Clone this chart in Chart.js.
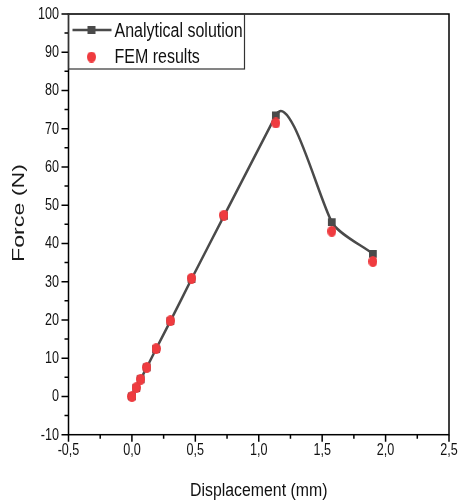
<!DOCTYPE html>
<html>
<head>
<meta charset="utf-8">
<script src="https://cdn.jsdelivr.net/npm/chart.js@4.4.1/dist/chart.umd.min.js"></script>
<style>
    html, body { margin: 0; padding: 0; background: #fff; }
    #wrap { width: 460px; height: 503px; }
</style>
</head>
<body>
<div id="wrap"><canvas id="forceChart"></canvas></div>

<script>
// displacement (mm) shared by both series
const displacement = [0, 0.034, 0.069, 0.117, 0.19, 0.303, 0.47, 0.726, 1.135, 1.576, 1.9];
const analyticalForce = [0, 2.2, 4.5, 7.6, 12.4, 19.7, 30.7, 47.2, 73.5, 45.6, 37.3];
const femForce = [0, 2.3, 4.5, 7.6, 12.5, 19.8, 30.9, 47.4, 71.5, 43.2, 35.3];

const xTickLabels = ['-0,5', '0,0', '0,5', '1,0', '1,5', '2,0', '2,5'];
const yTickLabels = ['-10', '0', '10', '20', '30', '40', '50', '60', '70', '80', '90', '100'];

const SANS = "'Liberation Sans', Arial, sans-serif";
const LINE_GREY = '#4a4a4a';
const FEM_RED = '#ef3b3f';
const TEXT = '#111';

// red FEM marker is a slightly tall ellipse
function ellipseMarker(w, h, color) {
    const c = document.createElement('canvas');
    c.width = w;
    c.height = h;
    const g = c.getContext('2d');
    g.fillStyle = color;
    g.beginPath();
    g.ellipse(w / 2, h / 2, w / 2, h / 2, 0, 0, Math.PI * 2);
    g.fill();
    return c;
}
const femMarker = ellipseMarker(9, 11, FEM_RED);

// condensed-looking text: regular sans squeezed horizontally
function squeezedText(ctx, text, x, y, size, sx, align) {
    ctx.save();
    ctx.translate(x, y);
    ctx.scale(sx, 1);
    ctx.font = size + 'px ' + SANS;
    ctx.textAlign = align;
    ctx.textBaseline = 'alphabetic';
    ctx.fillText(text, 0, 0);
    ctx.restore();
}

// smooth analytical curve: each point's tangent follows its incoming segment
const splinePlugin = {
    id: 'analyticalSpline',
    beforeDatasetsDraw(chart) {
        const { ctx, chartArea, scales: { x, y } } = chart;
        const pts = displacement.map((d, i) => [x.getPixelForValue(d), y.getPixelForValue(analyticalForce[i])]);
        const dir = (a, b) => {
            const dx = b[0] - a[0], dy = b[1] - a[1], len = Math.hypot(dx, dy);
            return [dx / len, dy / len];
        };
        const tangent = i => (i === 0 ? dir(pts[0], pts[1]) : dir(pts[i - 1], pts[i]));

        ctx.save();
        ctx.beginPath();
        ctx.rect(chartArea.left, chartArea.top, chartArea.right - chartArea.left, chartArea.bottom - chartArea.top);
        ctx.clip();
        ctx.strokeStyle = LINE_GREY;
        ctx.lineWidth = 2.5;
        ctx.lineJoin = 'round';
        ctx.beginPath();
        ctx.moveTo(pts[0][0], pts[0][1]);
        for (let i = 0; i < pts.length - 1; i++) {
            const p0 = pts[i], p1 = pts[i + 1];
            const k = 0.25 * Math.hypot(p1[0] - p0[0], p1[1] - p0[1]);
            const t0 = tangent(i), t1 = tangent(i + 1);
            ctx.bezierCurveTo(
                p0[0] + t0[0] * k, p0[1] + t0[1] * k,
                p1[0] - t1[0] * k, p1[1] - t1[1] * k,
                p1[0], p1[1]
            );
        }
        ctx.stroke();
        ctx.restore();
    }
};

// frame, ticks, tick labels, axis titles and boxed legend
const decorPlugin = {
    id: 'decor',
    afterDraw(chart) {
        const { ctx, chartArea: { top, bottom, left, right }, scales: { x, y } } = chart;
        ctx.save();
        ctx.strokeStyle = '#000';
        ctx.fillStyle = TEXT;
        ctx.lineWidth = 1.5;

        // majors every 0.5 / 10, minors halfway
        ctx.beginPath();
        xTickLabels.forEach((label, i) => {
            const v = parseFloat(label.replace(',', '.'));
            const px = x.getPixelForValue(v);
            ctx.moveTo(px, bottom);
            ctx.lineTo(px, bottom + 7);
            if (i < xTickLabels.length - 1) {
                const mx = x.getPixelForValue(v + 0.25);
                ctx.moveTo(mx, bottom);
                ctx.lineTo(mx, bottom + 4);
            }
            squeezedText(ctx, label, px, bottom + 20.5, 17, 0.74, 'center');
        });
        yTickLabels.forEach((label, i) => {
            const v = parseFloat(label);
            const py = y.getPixelForValue(v);
            ctx.moveTo(left, py);
            ctx.lineTo(left - 7, py);
            if (i < yTickLabels.length - 1) {
                const my = y.getPixelForValue(v + 5);
                ctx.moveTo(left, my);
                ctx.lineTo(left - 4, my);
            }
            squeezedText(ctx, label, left - 9.5, py + 5, 17, 0.74, 'right');
        });
        ctx.stroke();
        ctx.strokeRect(left, top, right - left, bottom - top);

        // axis titles
        squeezedText(ctx, 'Displacement (mm)', (left + right) / 2, 496, 18, 0.88, 'center');

        ctx.save();
        ctx.translate(20, 213);
        ctx.rotate(-Math.PI / 2);
        ctx.scale(1.45, 1);
        ctx.fillStyle = '#1a1a1a';
        ctx.font = '16px ' + SANS;
        ctx.textAlign = 'center';
        ctx.textBaseline = 'middle';
        ctx.fillText('Force (N)', 0, 0);
        ctx.restore();

        // legend box in the top-left corner of the plot
        const lx = left, ly = top, lw = 176, lh = 55;
        ctx.lineWidth = 1.2;
        ctx.strokeStyle = '#333';
        ctx.strokeRect(lx, ly, lw, lh);

        const row1 = ly + 16, row2 = ly + 43, sym = lx + 23;
        ctx.strokeStyle = LINE_GREY;
        ctx.lineWidth = 2.5;
        ctx.beginPath();
        ctx.moveTo(lx + 4, row1);
        ctx.lineTo(lx + 43, row1);
        ctx.stroke();
        ctx.fillStyle = LINE_GREY;
        ctx.fillRect(sym - 4, row1 - 4, 8, 8);
        ctx.drawImage(femMarker, sym - femMarker.width / 2, row2 - femMarker.height / 2);

        ctx.fillStyle = TEXT;
        squeezedText(ctx, 'Analytical solution', lx + 46, ly + 22.5, 20, 0.8, 'left');
        squeezedText(ctx, 'FEM results', lx + 46, ly + 49.3, 20, 0.8, 'left');
        ctx.restore();
    }
};

const ctx = document.getElementById('forceChart').getContext('2d');
new Chart(ctx, {
    type: 'line',
    data: {
        datasets: [
            {
                label: 'Analytical solution',
                data: displacement.map((d, i) => ({ x: d, y: analyticalForce[i] })),
                showLine: false,
                backgroundColor: LINE_GREY,
                pointStyle: 'rect',
                pointRadius: 5.5,
                pointBorderWidth: 0,
                order: 2
            },
            {
                label: 'FEM results',
                data: displacement.map((d, i) => ({ x: d, y: femForce[i] })),
                showLine: false,
                pointStyle: femMarker,
                order: 1
            }
        ]
    },
    options: {
        responsive: true,
        maintainAspectRatio: false,
        animation: false,
        layout: { padding: { top: 14, right: 11, left: 0, bottom: 0 } },
        plugins: {
            legend: { display: false },
            tooltip: { enabled: false }
        },
        scales: {
            x: {
                type: 'linear',
                min: -0.5,
                max: 2.5,
                afterFit: (scale) => { scale.height = 68.3; },
                ticks: { display: false },
                grid: { display: false },
                border: { display: false }
            },
            y: {
                type: 'linear',
                min: -10,
                max: 100,
                afterFit: (scale) => { scale.width = 68.5; },
                ticks: { display: false },
                grid: { display: false },
                border: { display: false }
            }
        }
    },
    plugins: [splinePlugin, decorPlugin]
});
</script>
</body>
</html>
